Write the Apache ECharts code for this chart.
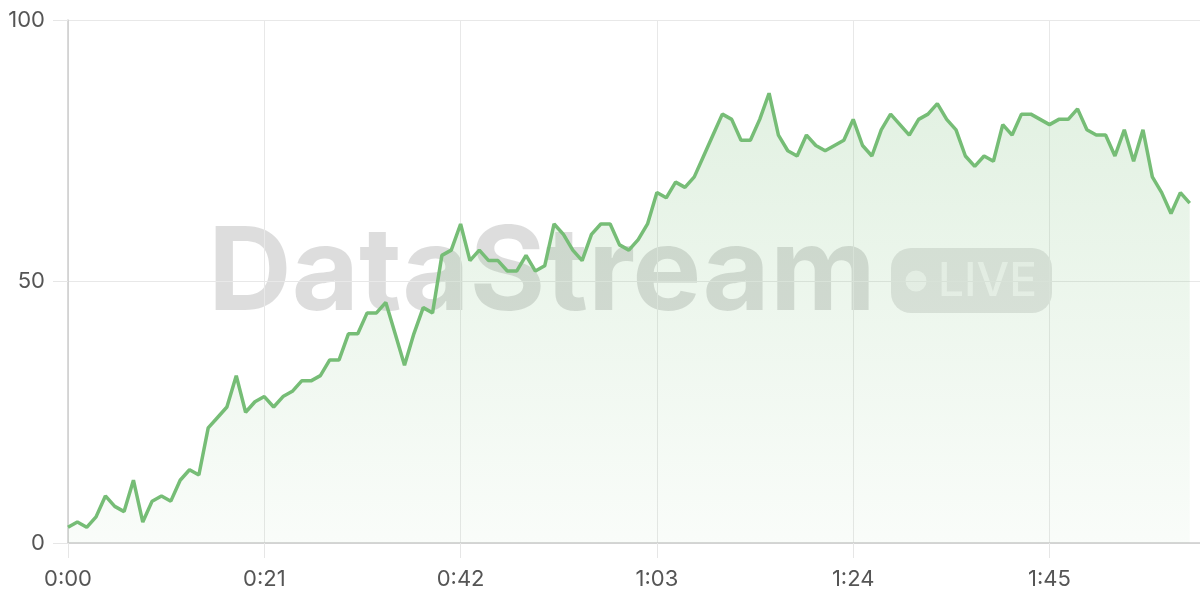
<!DOCTYPE html>
<html>
<head>
<meta charset="utf-8">
<script src="https://cdn.jsdelivr.net/npm/echarts@6/dist/echarts.min.js"></script>
<style>
html,body{margin:0;padding:0;background:#fff;}
#chart{width:1200px;height:600px;}
</style>
</head>
<body>
<div id="chart"></div>
<script>
// seconds since start (one sample per second)
const values = [
  3,4,3,5,9,7,6,12,4,8,
  9,8,12,14,13,22,24,26,32,25,
  27,28,26,28,29,31,31,32,35,35,
  40,40,44,44,46,40,34,40,45,44,
  55,56,61,54,56,54,54,52,52,55,
  52,53,61,59,56,54,59,61,61,57,
  56,58,61,67,66,69,68,70,74,78,
  82,81,77,77,81,86,78,75,74,78,
  76,75,76,77,81,76,74,79,82,80,
  78,81,82,84,81,79,74,72,74,73,
  80,78,82,82,81,80,81,81,83,79,
  78,78,74,79,73,79,70,67,63,67,65
];
const seconds = values.map((_, i) => i);
const yTicks = [0, 50, 100];
const xTickStep = 21;

const seriesData = seconds.map((s, i) => [s, values[i]]);

function fmt(v) {
  const m = Math.floor(v / 60);
  const s = Math.round(v % 60);
  return m + ':' + (s < 10 ? '0' : '') + s;
}

const chart = echarts.init(document.getElementById('chart'));
const labelFont = { fontFamily: 'Inter, "Noto Sans", sans-serif', fontSize: 22, color: '#555' };
chart.setOption({
  animation: false,
  backgroundColor: '#fff',
  grid: { left: 68, right: -1, top: 20, bottom: 57, containLabel: false },
  xAxis: {
    type: 'value',
    min: 0,
    max: 121.1,
    interval: xTickStep,
    axisLine: { show: true, lineStyle: { color: '#cccccc', width: 1.5 } },
    axisTick: { show: true, length: 15, lineStyle: { color: '#e6e6e6' } },
    splitLine: { show: true, lineStyle: { color: '#e8e8e8' } },
    axisLabel: Object.assign({ margin: 25, showMaxLabel: false, formatter: fmt }, labelFont)
  },
  yAxis: {
    type: 'value',
    min: yTicks[0],
    max: yTicks[yTicks.length - 1],
    interval: yTicks[1] - yTicks[0],
    axisLine: { show: true, lineStyle: { color: '#cccccc', width: 1.5 } },
    axisTick: { show: true, length: 15, lineStyle: { color: '#e6e6e6' } },
    splitLine: { show: true, lineStyle: { color: '#e8e8e8' } },
    axisLabel: Object.assign({ margin: 23 }, labelFont)
  },
  graphic: [
    {
      type: 'group', z: -10, silent: true,
      children: [
        { type: 'text', z: -10, style: { x: 208, y: 275, text: 'DataStream', fill: 'rgba(0,0,0,0.135)',
          font: '700 116px Inter, "Noto Sans", sans-serif', verticalAlign: 'middle', textAlign: 'left' } },
        { type: 'rect', z: -10, shape: { x: 891, y: 248, width: 161, height: 65, r: 20 },
          style: { fill: 'rgba(0,0,0,0.10)' } },
        { type: 'circle', z: -9, shape: { cx: 916, cy: 281, r: 10.5 },
          style: { fill: 'rgba(255,255,255,0.62)' } },
        { type: 'text', z: -9, style: { x: 938, y: 282, text: 'LIVE', fill: 'rgba(255,255,255,0.62)',
          font: '500 46px Inter, "Noto Sans", sans-serif', verticalAlign: 'middle', textAlign: 'left' } }
      ]
    }
  ],
  series: [{
    type: 'line',
    data: seriesData,
    showSymbol: false,
    symbol: 'none',
    z: 5,
    lineStyle: { color: '#76bd76', width: 3.5 },
    itemStyle: { color: '#76bd76' },
    areaStyle: {
      color: new echarts.graphic.LinearGradient(0, 0, 0, 1, [
        { offset: 0, color: 'rgba(118,189,118,0.30)' },
        { offset: 1, color: 'rgba(118,189,118,0.06)' }
      ])
    }
  }]
});
</script>
</body>
</html>
